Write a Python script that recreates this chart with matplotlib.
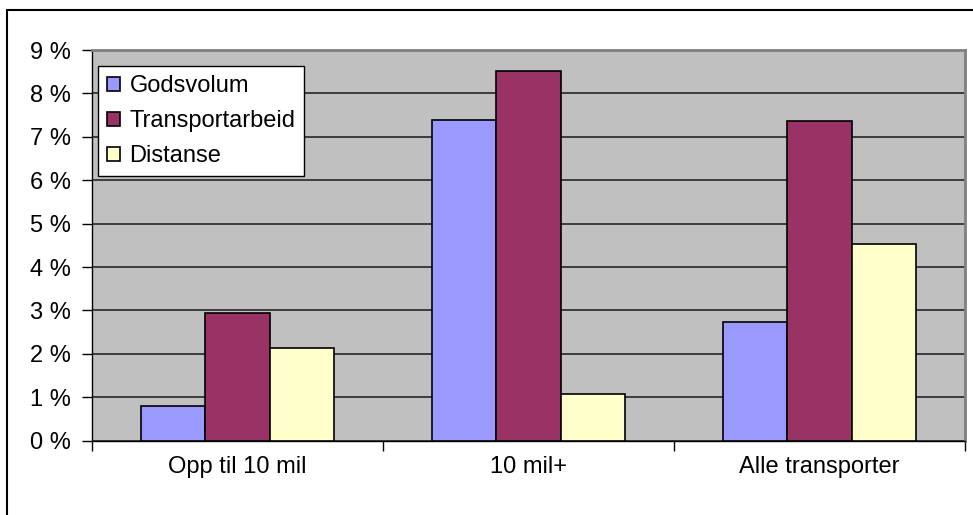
import matplotlib
matplotlib.use("Agg")
import matplotlib.pyplot as plt
import numpy as np
from matplotlib.patches import Rectangle

categories = ["Opp til 10 mil", "10 mil+", "Alle transporter"]
series_names = ["Godsvolum", "Transportarbeid", "Distanse"]
godsvolum = [0.80, 7.38, 2.73]
transportarbeid = [2.95, 8.52, 7.37]
distanse = [2.13, 1.08, 4.52]
yticks = [0, 1, 2, 3, 4, 5, 6, 7, 8, 9]
ytick_labels = [f"{v} %" for v in yticks]

colors = ["#9999FF", "#993366", "#FFFFCC"]

plt.rcParams['font.family'] = ['Liberation Sans', 'DejaVu Sans']

W, H = 973, 515
FS = 17
fig = plt.figure(figsize=(W / 100, H / 100), dpi=100)
ax = fig.add_axes([92 / W, (H - 440.7) / H, (965 - 92) / W, (440.7 - 50) / H])
ax.set_facecolor("#C0C0C0")

x = np.arange(len(categories))
bw = 0.221
for i, (vals, name, c) in enumerate(zip([godsvolum, transportarbeid, distanse], series_names, colors)):
    ax.bar(x + (i - 1) * bw, vals, width=bw, color=c, edgecolor="black", linewidth=1.2,
           label=name, zorder=3)

ax.set_xlim(-0.5, 2.5)
ax.set_ylim(0, 9)
ax.set_yticks(yticks)
ax.set_yticklabels(ytick_labels)
ax.yaxis.grid(True, color="#1a1a1a", linewidth=1.1, zorder=1)
ax.set_axisbelow(True)

ax.set_xticks(x)
ax.set_xticklabels(categories)
ax.tick_params(axis="x", which="major", length=0, pad=11, labelsize=FS)
ax.set_xticks([-0.5, 0.5, 1.5, 2.5], minor=True)
ax.tick_params(axis="x", which="minor", length=7, width=1, direction="out", color="black")
ax.tick_params(axis="y", length=7, width=1, direction="out", labelsize=FS, pad=8)

for s in ["left", "bottom"]:
    ax.spines[s].set_color("black")
    ax.spines[s].set_linewidth(1.0)
for s in ["top", "right"]:
    ax.spines[s].set_color("#808080")
    ax.spines[s].set_linewidth(2.0)

leg = ax.legend(loc="upper left", bbox_to_anchor=(6 / 873, (440.7 - 66) / 390.7),
                borderaxespad=0, fontsize=FS, frameon=True, fancybox=False,
                edgecolor="black", facecolor="white", framealpha=1,
                handlelength=0.55, handleheight=0.55, handletextpad=0.4,
                labelspacing=0.56, borderpad=0.38)
leg.get_frame().set_linewidth(1.0)

fig.patches.append(Rectangle((7 / W, -0.1), 1.2, (H - 10) / H + 0.1, transform=fig.transFigure,
                             fill=False, edgecolor="black", linewidth=1.5))

fig.savefig("out.png", dpi=100, facecolor="white")
